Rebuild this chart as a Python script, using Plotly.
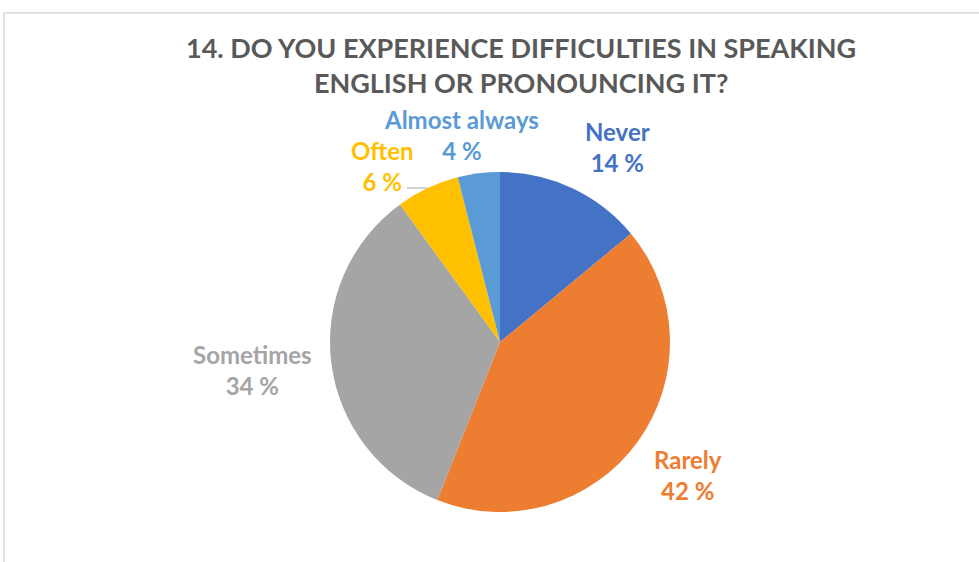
import plotly.graph_objects as go

categories = ["Never", "Rarely", "Sometimes", "Often", "Almost always"]
values = [14, 42, 34, 6, 4]
colors = ["#4472C4", "#ED7D31", "#A5A5A5", "#FFC000", "#5B9BD5"]
title_text = "14. DO YOU EXPERIENCE DIFFICULTIES IN SPEAKING<br>ENGLISH OR PRONOUNCING IT?"

W, H = 979, 562
FONT = "Lato"

# label placement (pixel centres of the label boxes)
label_pos = {
    "Never": (617, 147),
    "Rarely": (688, 475),
    "Sometimes": (252, 370),
    "Often": (382, 166),
    "Almost always": (461, 135),
}

cx, cy, R = 500, 342, 170

def px(x):
    return x / W

def py(y):
    return 1 - y / H

fig = go.Figure(
    go.Pie(
        labels=categories,
        values=values,
        marker=dict(colors=colors, line=dict(color="white", width=0)),
        sort=False,
        direction="clockwise",
        rotation=0,
        textinfo="none",
        hoverinfo="label+percent",
        domain=dict(x=[px(cx - R), px(cx + R)], y=[py(cy + R), py(cy - R)]),
        showlegend=False,
    )
)

annotations = [
    dict(
        text=f"<b>{title_text}</b>",
        x=px(521), y=py(65), xref="paper", yref="paper",
        xanchor="center", yanchor="middle", showarrow=False,
        font=dict(family=FONT, size=27, color="#595959"),
    )
]
for cat, val, col in zip(categories, values, colors):
    lx, ly = label_pos[cat]
    annotations.append(
        dict(
            text=f"<b>{cat}<br>{val} %</b>",
            x=px(lx), y=py(ly), xref="paper", yref="paper",
            xanchor="center", yanchor="middle", showarrow=False,
            font=dict(family=FONT, size=24, color=col),
        )
    )

shapes = [
    dict(type="rect", xref="paper", yref="paper",
         x0=px(4), x1=px(W + 10), y0=py(H + 10), y1=py(13),
         line=dict(color="#D9D9D9", width=1.5), fillcolor="rgba(0,0,0,0)"),
    dict(type="line", xref="paper", yref="paper",
         x0=px(407), x1=px(427), y0=py(188), y1=py(188),
         line=dict(color="#A6A6A6", width=1)),
]

fig.update_layout(
    width=W, height=H,
    margin=dict(l=0, r=0, t=0, b=0),
    paper_bgcolor="white", plot_bgcolor="white",
    annotations=annotations,
    shapes=shapes,
)

fig.write_html("out.html")
